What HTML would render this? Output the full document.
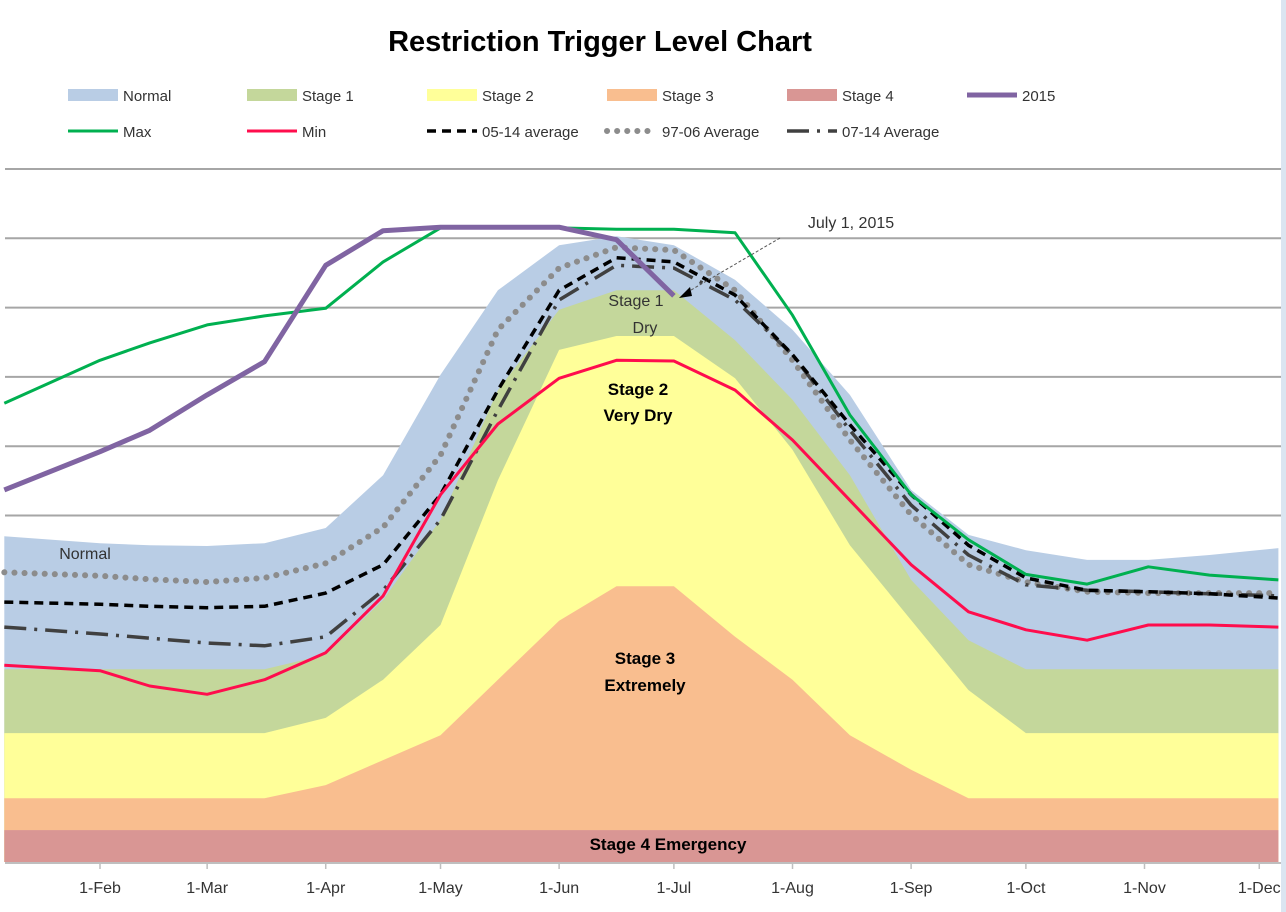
<!DOCTYPE html>
<html><head><meta charset="utf-8"><style>
html,body{margin:0;padding:0;background:#fff;width:1286px;height:912px;overflow:hidden}
svg{display:block;font-family:"Liberation Sans",sans-serif}
</style></head><body>
<svg id="chart" width="1286" height="912">
<rect x="1281" y="0" width="5" height="912" fill="#dbe5f1"/>
<text x="600" y="51" text-anchor="middle" font-size="29" font-weight="bold" fill="#000">Restriction Trigger Level Chart</text>
<g id="legend" font-size="15" fill="#333"></g>
<g id="grid"></g>
<g id="areas"></g>
<g id="lines"></g>
<g id="labels"></g>
<g id="xaxis"></g>
</svg>
<script>
const dayPos=[7,32,45,60,75,91,106,121,136,152,167,182,198,213,228,244,259,274,290,306,322,340];
const stage4Top=[0.46,0.46,0.46,0.46,0.46,0.46,0.46,0.46,0.46,0.46,0.46,0.46,0.46,0.46,0.46,0.46,0.46,0.46,0.46,0.46,0.46,0.46];
const stage3Top=[0.92,0.92,0.92,0.92,0.92,1.11,1.47,1.83,2.63,3.48,3.98,3.98,3.25,2.63,1.83,1.33,0.92,0.92,0.92,0.92,0.92,0.92];
const stage2Top=[1.86,1.86,1.86,1.86,1.86,2.08,2.63,3.42,5.51,7.39,7.59,7.59,6.98,5.95,4.57,3.49,2.48,1.86,1.86,1.86,1.86,1.86];
const stage1Top=[2.78,2.78,2.78,2.78,2.78,2.99,3.78,4.94,6.81,7.97,8.25,8.25,7.53,6.67,5.58,4.07,3.20,2.78,2.78,2.78,2.78,2.78];
const normalTop=[4.70,4.60,4.57,4.56,4.60,4.82,5.58,7.03,8.25,8.90,9.03,8.90,8.40,7.68,6.74,5.37,4.72,4.50,4.36,4.36,4.43,4.53];
const maxVals=[6.62,7.24,7.49,7.75,7.88,7.99,8.66,9.15,9.15,9.15,9.13,9.13,9.08,7.89,6.45,5.30,4.65,4.15,4.01,4.26,4.14,4.07];
const minVals=[2.84,2.76,2.54,2.42,2.63,3.02,3.84,5.30,6.32,6.98,7.24,7.23,6.81,6.09,5.22,4.29,3.61,3.35,3.20,3.42,3.42,3.39];
const y2015=[5.37,5.92,6.23,6.74,7.22,8.61,9.11,9.16,9.16,9.16,8.98,8.17];
const avg0514=[3.75,3.72,3.69,3.67,3.69,3.88,4.29,5.30,6.81,8.25,8.72,8.66,8.18,7.32,6.31,5.30,4.57,4.10,3.92,3.90,3.87,3.81];
const avg9706=[4.18,4.13,4.08,4.04,4.10,4.31,4.83,5.87,7.68,8.57,8.87,8.83,8.25,7.24,6.09,5.01,4.29,4.04,3.90,3.88,3.88,3.88];
const avg0714=[3.39,3.29,3.23,3.16,3.12,3.25,3.92,4.94,6.52,8.11,8.61,8.57,8.11,7.32,6.23,5.15,4.43,4.00,3.92,3.90,3.87,3.84];
const tickDays=[32,60,91,121,152,182,213,244,274,305,335];
const tickLabels=["1-Feb","1-Mar","1-Apr","1-May","1-Jun","1-Jul","1-Aug","1-Sep","1-Oct","1-Nov","1-Dec"];
const gridVals=[5,6,7,8,9,10];

const NS="http://www.w3.org/2000/svg";
const X=d=>100+(d-32)*3.826;
const Y=v=>862-v*69.3;
function mk(tag,attrs,parent){const e=document.createElementNS(NS,tag);for(const k in attrs)e.setAttribute(k,attrs[k]);parent.appendChild(e);return e;}
const grid=document.getElementById('grid'),areas=document.getElementById('areas'),lines=document.getElementById('lines'),xa=document.getElementById('xaxis'),lg=document.getElementById('legend'),lb=document.getElementById('labels');

gridVals.forEach(v=>{const l=mk('line',{x1:5,x2:1281,y1:Y(v),y2:Y(v),stroke:'#a6a6a6','stroke-width':2},grid);

});

function area(vals,fill,name){
  let d='M'+X(dayPos[0])+','+Y(0);
  vals.forEach((v,i)=>{d+=' L'+X(dayPos[i]).toFixed(1)+','+Y(v).toFixed(1);});
  d+=' L'+X(dayPos[dayPos.length-1])+','+Y(0)+' Z';
  const p=mk('path',{d:d,fill:fill},areas);
  
  
}
area(normalTop,'#b9cde5','normal-band');
area(stage1Top,'#c4d79b','stage1-band');
area(stage2Top,'#ffff99','stage2-band');
area(stage3Top,'#f9be8f','stage3-band');
area(stage4Top,'#d99694','stage4-band');

function line(vals,attrs,name){
  const pts=vals.map((v,i)=>X(dayPos[i]).toFixed(1)+','+Y(v).toFixed(1)).join(' ');
  const a=Object.assign({points:pts,fill:'none','stroke-linejoin':'round'},attrs);
  const p=mk('polyline',a,lines);
  
  
}
line(avg9706,{stroke:'#8c8c8c','stroke-width':6,'stroke-dasharray':'0.1 10','stroke-linecap':'round'},'avg-97-06-line');
line(avg0714,{stroke:'#404040','stroke-width':3.5,'stroke-dasharray':'22 8 3 8'},'avg-07-14-line');
line(avg0514,{stroke:'#000','stroke-width':3.5,'stroke-dasharray':'9 6'},'avg-05-14-line');
line(minVals,{stroke:'#ff0d4d','stroke-width':3},'min-line');
line(maxVals,{stroke:'#00b050','stroke-width':3},'max-line');
line(y2015,{stroke:'#8064a2','stroke-width':5},'year-2015-line');

const ax=mk('line',{x1:5,x2:1281,y1:863,y2:863,stroke:'#bfbfbf','stroke-width':2},xa);


tickLabels.forEach((s,i)=>{const x=X(tickDays[i]);
 const tk=mk('line',{x1:x,x2:x,y1:863,y2:869,stroke:'#bfbfbf','stroke-width':1.5},xa);
 
 
 const t=mk('text',{x:x,y:893,'text-anchor':'middle','font-size':16,fill:'#333'},xa);t.textContent=s;
 
 });

const legRects=[['Normal','#b9cde5',68],['Stage 1','#c4d79b',247],['Stage 2','#ffff99',427],['Stage 3','#f9be8f',607],['Stage 4','#d99694',787]];
legRects.forEach(r=>{const g=mk('g',{},lg);
 
 
 mk('rect',{x:r[2],y:89,width:50,height:12,fill:r[1]},g);
 const t=mk('text',{x:r[2]+55,y:101,'font-size':15,fill:'#333'},g);t.textContent=r[0];});
const legLines=[['2015',{stroke:'#8064a2','stroke-width':5},967,95],
 ['Max',{stroke:'#00b050','stroke-width':3},68,131],
 ['Min',{stroke:'#ff0d4d','stroke-width':3},247,131],
 ['05-14 average',{stroke:'#000','stroke-width':3.5,'stroke-dasharray':'9 6'},427,131],
 ['97-06 Average',{stroke:'#8c8c8c','stroke-width':6,'stroke-dasharray':'0.1 10','stroke-linecap':'round'},607,131],
 ['07-14 Average',{stroke:'#404040','stroke-width':3.5,'stroke-dasharray':'22 8 3 8'},787,131]];
legLines.forEach(r=>{const g=mk('g',{},lg);
 
 
 mk('line',Object.assign({x1:r[2],x2:r[2]+50,y1:r[3],y2:r[3]},r[1]),g);
 const t=mk('text',{x:r[2]+55,y:r[3]+6,'font-size':15,fill:'#333'},g);t.textContent=r[0];});

const labs=[['Normal',85,559,16,'normal','#333'],['Stage 1',636,306,16,'normal','#333'],['Dry',645,333,16,'normal','#333'],
['Stage 2',638,395,17,'bold','#000'],['Very Dry',638,421,17,'bold','#000'],['Stage 3',645,664,17,'bold','#000'],['Extremely',645,691,17,'bold','#000'],
['Stage 4 Emergency',668,850,17,'bold','#000'],['July 1, 2015',851,228,16,'normal','#333']];
labs.forEach(l=>{const t=mk('text',{x:l[1],y:l[2],'text-anchor':'middle','font-size':l[3],'font-weight':l[4],fill:l[5]},lb);t.textContent=l[0];
 
 });
const ar=mk('line',{x1:780,y1:238,x2:686,y2:293,stroke:'#555','stroke-width':1,'stroke-dasharray':'3 2'},lb);


const ah=mk('polygon',{points:'679,298 690,287 692,296',fill:'#000'},lb);


</script>
</body></html>
